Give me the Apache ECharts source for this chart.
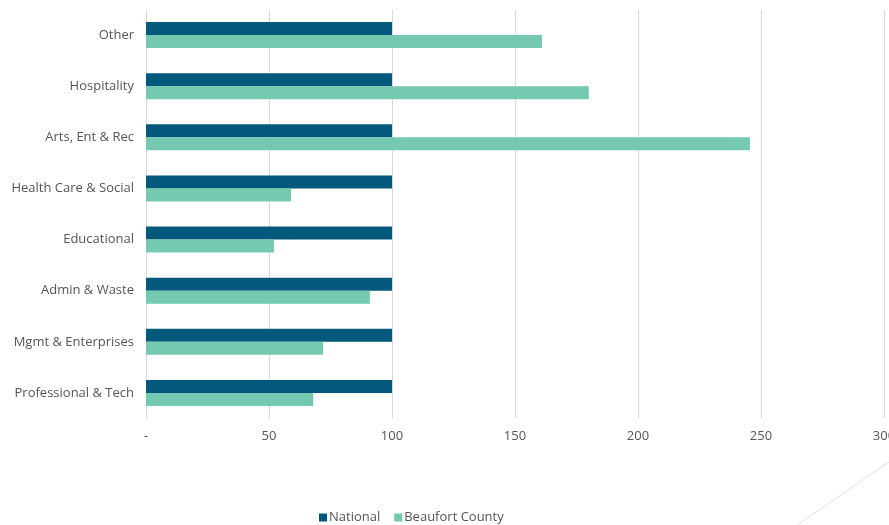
<!DOCTYPE html>
<html><head><meta charset="utf-8">
<script src="https://cdn.jsdelivr.net/npm/echarts@6/dist/echarts.min.js"></script>
<style>html,body{margin:0;padding:0;background:#fff}#c{width:889px;height:525px}</style>
</head><body><div id="c"></div>
<script>
const categories = ["Professional & Tech","Mgmt & Enterprises","Admin & Waste","Educational","Health Care & Social","Arts, Ent & Rec","Hospitality","Other"];
const national = [100,100,100,100,100,100,100,100];
const beaufort = [68,72,91,52,59,245.5,180,161];
const seriesNames = ["National","Beaufort County"];
const tickValues = [0,50,100,150,200,250,300];

const chart = echarts.init(document.getElementById('c'), null, {renderer:'canvas'});
const font = '"Open Sans", "Noto Sans", sans-serif';
chart.setOption({
  animation:false,
  textStyle:{fontFamily:font},
  grid:{left:146,right:5,top:9.5,bottom:106.5,containLabel:false,outerBoundsMode:'none'},
  xAxis:{type:'value',min:tickValues[0],max:tickValues[tickValues.length-1],interval:50,
    axisLine:{show:false},axisTick:{show:false},
    splitLine:{lineStyle:{color:'#d9d9d9',width:1}},
    axisLabel:{color:'#555555',fontSize:13,fontFamily:font,margin:11,hideOverlap:false,
      formatter:v=>v===0?'-':String(v)}},
  yAxis:{type:'category',data:categories,
    axisLine:{show:false},axisTick:{show:false},
    axisLabel:{color:'#555555',fontSize:13,fontFamily:font,margin:12}},
  legend:{data:seriesNames,left:314,bottom:-4,itemWidth:8,itemHeight:8,itemGap:14,
    icon:'rect',textStyle:{color:'#555555',fontSize:13,fontFamily:font,padding:[0,0,0,-3]}},
  series:[
    {name:seriesNames[0],type:'bar',data:national,itemStyle:{color:'#03597b'},barGap:'0%',barCategoryGap:'49%'},
    {name:seriesNames[1],type:'bar',data:beaufort,itemStyle:{color:'#75c9b0'},barGap:'0%',barCategoryGap:'49%'}
  ],
  graphic:[{type:'line',shape:{x1:797,y1:525,x2:889,y2:462},style:{stroke:'#e0e0e0',lineWidth:1},silent:true}]
});
</script></body></html>
